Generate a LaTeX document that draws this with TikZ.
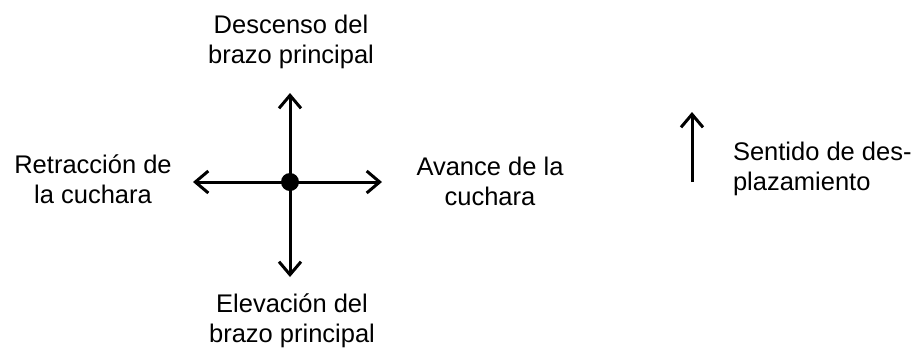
\documentclass[tikz,border=0pt]{standalone}
\usepackage{fontspec}
\setmainfont{Liberation Sans}
\usetikzlibrary{arrows.meta}
\tikzset{
  lbl/.style={inner sep=0pt, outer sep=0pt, font=\fontsize{25.5}{30}\selectfont, anchor=base},
  arr/.style={line width=3pt, -{Straight Barb[length=13pt,width=22pt]}},
  dot/.style={circle, fill=black, inner sep=0pt, minimum size=18pt}
}
\begin{document}
\begin{tikzpicture}[x=1pt,y=-1pt]
\useasboundingbox (0,0) rectangle (916,349);
\node[dot] (c) at (290,182) {};
\coordinate (up) at (290,93);
\coordinate (dn) at (290,277);
\coordinate (lf) at (193,182);
\coordinate (rt) at (382,182);
\draw[arr] (c.center) -- (up);
\draw[arr] (c.center) -- (dn);
\draw[arr] (c.center) -- (lf);
\draw[arr] (c.center) -- (rt);
\coordinate (sb) at (692,182);
\coordinate (st) at (692,112);
\draw[arr] (sb) -- (st);
\node[lbl, align=center] (desc) at (291,63) {Descenso del\\brazo principal};
\node[lbl, align=center] (elev) at (292,342) {Elevación del\\brazo principal};
\node[lbl, align=center] (retr) at (93,203) {Retracción de\\la cuchara};
\node[lbl, align=center] (avan) at (490,205) {Avance de la\\cuchara};
\node[lbl, align=left, anchor=base west] (sent) at (733,190) {Sentido de des-\\plazamiento};
\end{tikzpicture}
\end{document}
